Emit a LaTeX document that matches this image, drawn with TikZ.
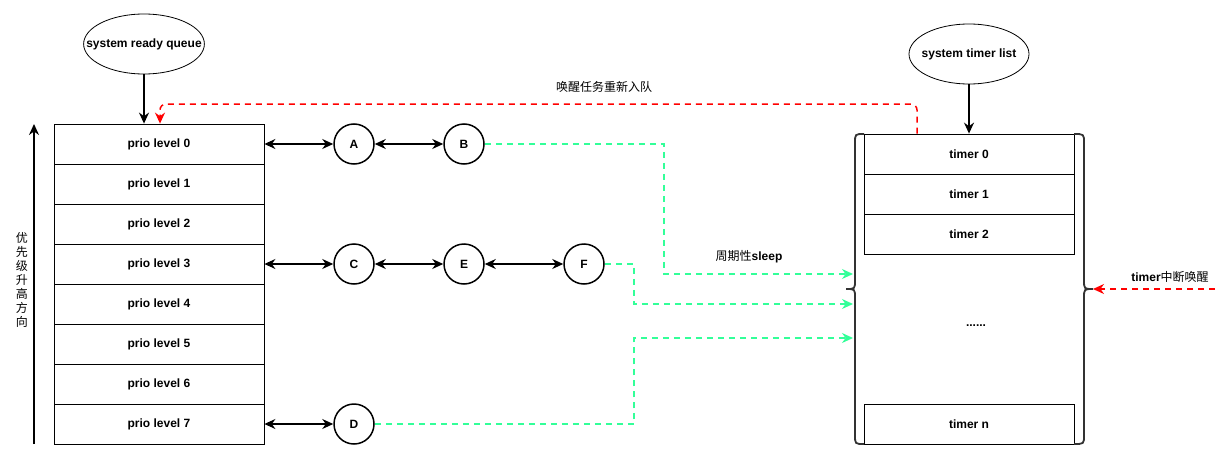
\documentclass[tikz,border=0pt]{standalone}
\usepackage{fontspec}
\setmainfont{Liberation Sans}
\newfontfamily\cjk{Noto Sans CJK SC}
\usetikzlibrary{arrows.meta,positioning,shapes.geometric}
\definecolor{mint}{HTML}{33FF99}
\definecolor{wred}{HTML}{FF0000}
\tikzset{
  qnode/.style={ellipse,draw,line width=0.8pt,minimum width=120pt,minimum height=60pt,
    inner xsep=-15pt,inner ysep=0pt,font=\bfseries\fontsize{12}{14}\selectfont},
  prionode/.style={rectangle,draw,line width=0.8pt,minimum width=210pt,minimum height=40pt,
    inner sep=0pt,font=\bfseries\fontsize{12}{14}\selectfont},
  timernode/.style={prionode},
  tasknode/.style={circle,draw,line width=1.5pt,minimum size=40pt,inner sep=0pt,
    font=\bfseries\fontsize{12}{14}\selectfont},
  lbl/.style={inner sep=1pt,font=\bfseries\fontsize{12}{14}\selectfont},
  feed/.style={-{Stealth[length=11pt,width=10pt]},line width=1.5pt},
  linkedge/.style={{Stealth[length=11pt,width=10pt]}-{Stealth[length=11pt,width=10pt]},line width=1.3pt},
  sleepedge/.style={-{Stealth[length=11pt,width=10pt]},line width=1.5pt,color=mint,
    dash pattern=on 6pt off 5pt},
  wakeedge/.style={-{Stealth[length=11pt,width=10pt]},line width=1.5pt,color=wred,
    dash pattern=on 6pt off 5pt},
  bracket/.style={line width=1.8pt,color=black!80},
}
\begin{document}
\begin{tikzpicture}[x=1pt,y=-1pt]
  \useasboundingbox (0,0) rectangle (1230,460);

  % ready queue side
  \node[qnode] (rq) at (144,44) {system ready queue};
  \foreach \i in {0,...,7}
    \node[prionode] (p\i) at (159,{144+40*\i}) {prio level \i};
  \draw[feed] (rq) -- (rq |- p0.north);

  \coordinate (ybot) at (34,444);
  \coordinate (ytop) at (34,124);
  \draw[feed] (ybot) -- (ytop);
  \node[align=center,inner sep=0pt,font=\cjk\fontsize{12}{14}\selectfont] (dir) at (22,280)
    {优\\先\\级\\升\\高\\方\\向};

  % tasks
  \node[tasknode] (A) at (354,144) {A};
  \node[tasknode] (B) at (464,144) {B};
  \node[tasknode] (C) at (354,264) {C};
  \node[tasknode] (E) at (464,264) {E};
  \node[tasknode] (F) at (584,264) {F};
  \node[tasknode] (D) at (354,424) {D};
  \draw[linkedge] (p0) -- (A);
  \draw[linkedge] (A) -- (B);
  \draw[linkedge] (p3) -- (C);
  \draw[linkedge] (C) -- (E);
  \draw[linkedge] (E) -- (F);
  \draw[linkedge] (p7) -- (D);

  % timer list side
  \node[qnode] (tl) at (969,54) {system timer list};
  \node[timernode] (t0) at (969,154) {timer 0};
  \node[timernode] (t1) at (969,194) {timer 1};
  \node[timernode] (t2) at (969,234) {timer 2};
  \node[lbl] (dots) at (976,326) {......};
  \node[timernode] (tn) at (969,424) {timer n};
  \draw[feed] (tl) -- (t0);

  % braces
  \draw[bracket] (864,134) .. controls (855,134) .. (855,143) -- (855,280)
    .. controls (855,289) .. (846,289) .. controls (855,289) .. (855,298) -- (855,435)
    .. controls (855,444) .. (864,444);
  \draw[bracket] (1074,134) .. controls (1084,134) .. (1084,143) -- (1084,280)
    .. controls (1084,289) .. (1093,289) .. controls (1084,289) .. (1084,298) -- (1084,435)
    .. controls (1084,444) .. (1074,444);
  \coordinate (s1) at (853,274);
  \coordinate (s2) at (853,304);
  \coordinate (s3) at (853,338);
  \coordinate (rb) at (1093,289);
  \coordinate (irq) at (1215,289);

  % sleep / wake
  \draw[sleepedge] (B) -- (664,144) |- (s1);
  \draw[sleepedge] (F) -- (634,264) |- (s2);
  \draw[sleepedge] (D) -- (634,424) |- (s3);
  \node[lbl] (sleeplbl) at (749,257) {{\cjk\mdseries 周期性}sleep};

  \draw[wakeedge,rounded corners=6pt] ([xshift=-52pt]t0.north) -- (917,104) -- (160,104)
    -- ([xshift=1pt]p0.north);
  \node[lbl,font=\cjk\fontsize{12}{14}\selectfont] (wakelbl) at (604,87) {唤醒任务重新入队};

  \draw[wakeedge] (irq) -- (rb);
  \node[lbl] (irqlbl) at (1170,277) {timer{\cjk\mdseries 中断唤醒}};
\end{tikzpicture}
\end{document}
